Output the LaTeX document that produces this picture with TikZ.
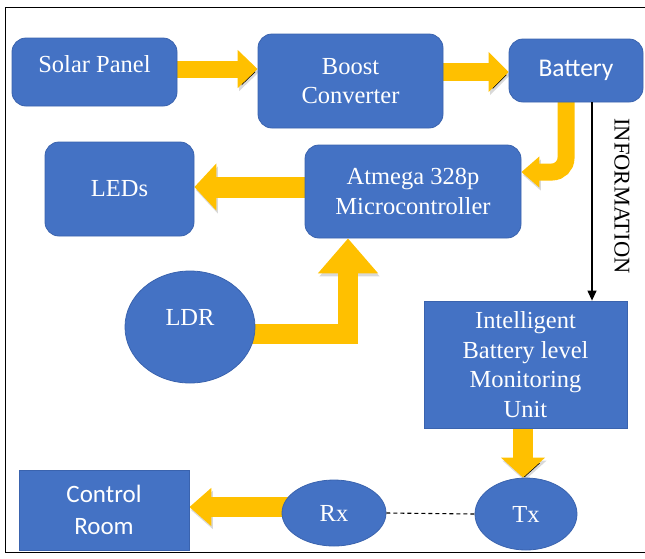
\documentclass[tikz,border=0pt]{standalone}
\usepackage{fontspec}
\setmainfont{Liberation Serif}
\newfontfamily\calib{Carlito}
\usetikzlibrary{arrows.meta,shapes.geometric,backgrounds,calc}
\definecolor{boxblue}{HTML}{4472C4}
\definecolor{boxedge}{HTML}{3A63AE}
\definecolor{gold}{HTML}{FFC000}
\begin{document}
\begin{tikzpicture}[x=1pt,y=-1pt,
  blk/.style={fill=boxblue, draw=boxedge, line width=0.8pt, text=white, align=center,
    font=\fontsize{24.5}{29.5}\selectfont, inner sep=0pt},
  rbox/.style={blk, rectangle, rounded corners=14pt},
  sbox/.style={blk, rectangle},
  ebox/.style={blk, ellipse},
  lbl/.style={text=white, font=\fontsize{24.5}{29.5}\selectfont, inner sep=0pt},
  yarrow/.style={draw=gold, line join=miter,
    preaction={draw=black, draw opacity=0.15, transform canvas={shift={(1.5pt,-3pt)}}}},
]
\useasboundingbox (0,0) rectangle (645,558);
% frame
\draw[line width=1pt] (646,7) -- (5,7) -- (5,552) -- (646,552);

% nodes
\node[rbox, minimum width=165pt, minimum height=68pt,
  label={[lbl, yshift=8pt]center:Solar Panel}] (solar) at (94.5,72) {};
\node[rbox, minimum width=185pt, minimum height=94pt] (boost) at (350.5,81) {Boost\\Converter};
\node[rbox, minimum width=134pt, minimum height=63pt, font=\calib\fontsize{25.5}{30}\selectfont] (battery) at (576,70.5) {Battery};
\node[rbox, minimum width=149pt, minimum height=94pt] (leds) at (119.5,189) {LEDs};
\node[rbox, minimum width=216pt, minimum height=93pt] (atmega) at (413,191.5) {Atmega 328p\\Microcontroller};
\node[ebox, minimum width=130pt, minimum height=112pt,
  label={[lbl, yshift=10pt]center:LDR}] (ldr) at (190,327) {};
\node[sbox, minimum width=203pt, minimum height=127pt] (intel) at (525.5,364.5)
  {Intelligent\\Battery level\\Monitoring\\Unit};
\node[sbox, minimum width=170pt, minimum height=80pt, font=\calib\fontsize{25}{32}\selectfont] (ctrl) at (104,510) {Control\\Room};
\node[ebox, minimum width=104pt, minimum height=66pt] (rx) at (334,513) {Rx};
\node[ebox, minimum width=102pt, minimum height=72pt] (tx) at (526,514) {Tx};
\node[rotate=-90, font=\fontsize{22.5}{26}\selectfont, inner sep=0pt] (info) at (622,196) {INFORMATION};

% connectors
\begin{scope}[on background layer]
\draw[yarrow, line width=17pt, -{Triangle[width=37pt,length=20pt]}]
  (solar.center |- 0,69) -- (boost.west |- 0,69);
\draw[yarrow, line width=18pt, -{Triangle[width=39pt,length=20pt]}]
  (boost.center |- 0,72) -- (battery.west |- 0,72);
\draw[yarrow, line width=17pt, rounded corners=14pt, -{Triangle[width=30pt,length=18pt]}]
  (battery.center -| 566,0) -- (566,172) -- (atmega.east |- 0,172);
\draw[yarrow, line width=21pt, -{Triangle[width=46pt,length=22pt]}]
  (atmega.center |- 0,187) -- (leds.east |- 0,187);
\draw[yarrow, line width=20pt, -{Triangle[width=58pt,length=35pt]}]
  (ldr.center |- 0,334) -| (atmega.south -| 348,0);
\draw[yarrow, line width=20pt, -{Triangle[width=43pt,length=20pt]}]
  (intel.center -| 523,0) -- (tx.north -| 523,0);
\draw[yarrow, line width=20pt, -{Triangle[width=37pt,length=22pt]}]
  (rx.center |- 0,507) -- (ctrl.east |- 0,507);
\end{scope}
\draw[line width=1.2pt, -{Triangle[width=9pt,length=10pt]}]
  (battery.south -| 592,0) -- (intel.north -| 592,0);
\draw[line width=1.1pt, dash pattern=on 4pt off 3pt] (rx.east) -- (tx.west);
\end{tikzpicture}
\end{document}
